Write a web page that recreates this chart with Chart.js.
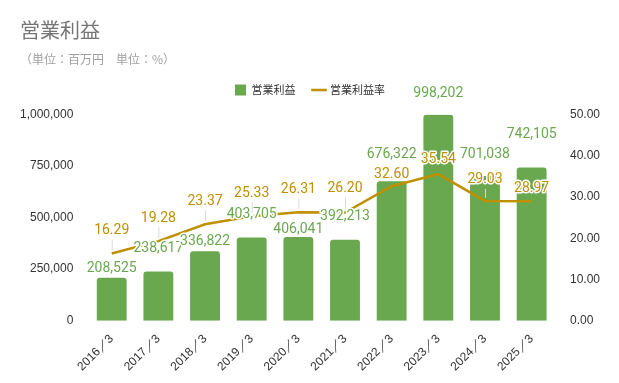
<!DOCTYPE html>
<html>
<head>
<meta charset="utf-8">
<script src="https://cdn.jsdelivr.net/npm/chart.js@4.4.1/dist/chart.umd.min.js"></script>
<style>
  html, body { margin: 0; padding: 0; background: #fff; }
  #wrap { width: 619px; height: 383px; }
</style>
</head>
<body>
<div id="wrap"><canvas id="profitChart" width="619" height="383"></canvas></div>
<script>
// data
const years = ['2016／3', '2017／3', '2018／3', '2019／3', '2020／3', '2021／3', '2022／3', '2023／3', '2024／3', '2025／3'];
const operatingProfit = [208525, 238617, 336822, 403705, 406041, 392213, 676322, 998202, 701038, 742105];
const profitRate = [16.29, 19.28, 23.37, 25.33, 26.31, 26.20, 32.60, 35.54, 29.03, 28.97];
const profitTicks = [0, 250000, 500000, 750000, 1000000];
const rateTicks = [0, 10, 20, 30, 40, 50];

const GREEN = '#6aa84f';
const GOLD = '#bf9000';

// label nudges (px, negative = up) so they don't collide, like in the original
const barLabelShift = [-9, -23, -10, -23, -7, -23, -27, -21, -22, -33];
const lineLabelShift = [-23, -23, -23, -23, -23, -24, -12, -15, -21, -13];

const valueLabels = {
    id: 'valueLabels',
    afterDatasetsDraw(chart) {
        const ctx = chart.ctx;
        ctx.save();
        ctx.font = '14px Roboto';
        ctx.textAlign = 'center';
        ctx.textBaseline = 'middle';
        ctx.lineJoin = 'round';

        // bar labels
        chart.getDatasetMeta(0).data.forEach((bar, i) => {
            let txt = operatingProfit[i].toLocaleString('en-US');
            let y = bar.y + barLabelShift[i];
            ctx.strokeStyle = '#fff';
            ctx.lineWidth = 3;
            ctx.strokeText(txt, bar.x, y);
            ctx.fillStyle = GREEN;
            ctx.fillText(txt, bar.x, y);
        });

        // line labels with small leader lines
        chart.getDatasetMeta(1).data.forEach((pt, i) => {
            let txt = profitRate[i].toFixed(2);
            let y = pt.y + lineLabelShift[i];
            if (lineLabelShift[i] < -18) {
                ctx.strokeStyle = '#d9d9d9';
                ctx.lineWidth = 1;
                ctx.beginPath();
                ctx.moveTo(pt.x + 0.5, y + 9);
                ctx.lineTo(pt.x + 0.5, pt.y - 3);
                ctx.stroke();
            }
            ctx.strokeStyle = '#fff';
            ctx.lineWidth = 3;
            ctx.strokeText(txt, pt.x, y);
            ctx.fillStyle = GOLD;
            ctx.fillText(txt, pt.x, y);
        });
        ctx.restore();
    }
};

// extra room under the legend
const legendGap = {
    id: 'legendGap',
    beforeInit(chart) {
        const origFit = chart.legend.fit;
        chart.legend.fit = function () {
            origFit.bind(chart.legend)();
            this.height += 9;
        };
    }
};

// y scales reserve the tick padding twice; drop the extra part
const trimAxis = (s) => { s.width -= 15; };

const ctx = document.getElementById('profitChart').getContext('2d');

new Chart(ctx, {
    type: 'bar',
    data: {
        labels: years,
        datasets: [
            {
                label: '営業利益',
                data: operatingProfit,
                backgroundColor: GREEN,
                borderRadius: { topLeft: 3, topRight: 3 },
                borderSkipped: 'bottom',
                categoryPercentage: 0.8,
                barPercentage: 0.8,
                yAxisID: 'y',
                order: 1,
                pointStyle: 'rect'
            },
            {
                type: 'line',
                label: '営業利益率',
                data: profitRate,
                borderColor: GOLD,
                backgroundColor: GOLD,
                borderWidth: 2.5,
                pointRadius: 0,
                tension: 0,
                yAxisID: 'y1',
                order: 0,
                pointStyle: 'line'
            }
        ]
    },
    options: {
        responsive: false,
        animation: false,
        layout: { padding: { left: 20, right: 19, top: 6, bottom: 6 } },
        plugins: {
            title: {
                display: true,
                text: '営業利益',
                align: 'start',
                color: '#757575',
                font: { family: '"Noto Sans CJK JP"', size: 20, weight: 'normal' },
                padding: { top: 12, bottom: 10 }
            },
            subtitle: {
                display: true,
                text: '（単位：百万円　単位：%）',
                align: 'start',
                color: '#a0a0a0',
                font: { family: '"Noto Sans CJK JP"', size: 12 },
                padding: { top: 0, bottom: 0 }
            },
            legend: {
                display: true,
                position: 'top',
                labels: {
                    usePointStyle: true,
                    boxWidth: 12,
                    boxHeight: 12,
                    padding: 18,
                    color: '#333',
                    font: { family: '"Noto Sans CJK JP"', size: 11 },
                    sort: (a, b) => a.datasetIndex - b.datasetIndex
                }
            },
            tooltip: { enabled: false }
        },
        scales: {
            x: {
                grid: { display: false },
                border: { display: false },
                ticks: {
                    color: '#333',
                    minRotation: 45,
                    maxRotation: 45,
                    font: { family: '"Liberation Sans"', size: 12 }
                }
            },
            y: {
                position: 'left',
                min: 0,
                max: 1000000,
                afterBuildTicks: (axis) => { axis.ticks = profitTicks.map(v => ({ value: v })); },
                afterFit: trimAxis,
                grid: { display: false, drawTicks: false },
                border: { display: false },
                ticks: {
                    color: '#333',
                    padding: 15,
                    font: { family: '"Liberation Sans"', size: 12 },
                    callback: (v) => v.toLocaleString('en-US')
                }
            },
            y1: {
                position: 'right',
                min: 0,
                max: 50,
                afterBuildTicks: (axis) => { axis.ticks = rateTicks.map(v => ({ value: v })); },
                afterFit: trimAxis,
                grid: { display: false, drawTicks: false },
                border: { display: false },
                ticks: {
                    color: '#333',
                    padding: 15,
                    font: { family: '"Liberation Sans"', size: 12 },
                    callback: (v) => v.toFixed(2)
                }
            }
        }
    },
    plugins: [valueLabels, legendGap]
});
</script>
</body>
</html>
